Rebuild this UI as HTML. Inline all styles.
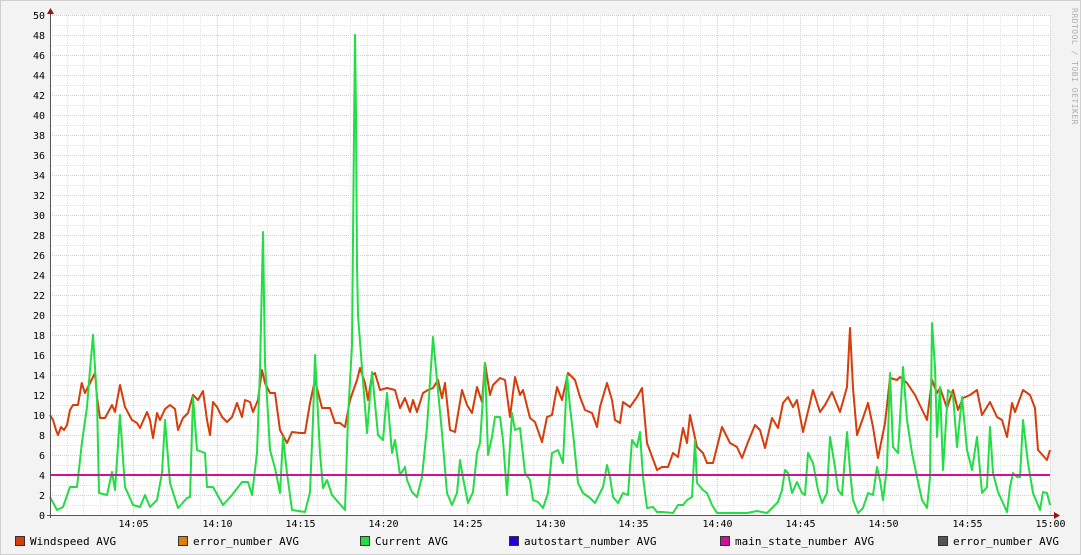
<!DOCTYPE html>
<html><head><meta charset="utf-8"><style>
body{margin:0;background:#f3f3f3;}
svg{display:block;font-family:"DejaVu Sans Mono","Liberation Mono",monospace;}
</style></head><body>
<svg id="s" width="1081" height="555" xmlns="http://www.w3.org/2000/svg">
<rect x="0" y="0" width="1081" height="555" fill="#f3f3f3"/>
<rect x="0.5" y="0.5" width="1080" height="554" fill="none" stroke="#cfcfcf"/>
<rect x="50" y="15" width="1000" height="500" fill="#ffffff"/>
<g id="grid"></g>
<g id="lines"></g>
<text x="1072" y="8" font-size="8" fill="#b0b0b0" transform="rotate(90 1072 8)" letter-spacing="0.5">RRDTOOL / TOBI OETIKER</text>
<g id="legend" font-size="11" fill="#000">
<rect x="15.5" y="536.5" width="9" height="9" fill="#d83c0a" stroke="#333"/><text x="30" y="545">Windspeed AVG</text>
<rect x="178.5" y="536.5" width="9" height="9" fill="#e07c0c" stroke="#333"/><text x="193" y="545">error_number AVG</text>
<rect x="360.5" y="536.5" width="9" height="9" fill="#22dd44" stroke="#333"/><text x="375" y="545">Current AVG</text>
<rect x="509.5" y="536.5" width="9" height="9" fill="#2000e0" stroke="#333"/><text x="524" y="545">autostart_number AVG</text>
<rect x="720.5" y="536.5" width="9" height="9" fill="#d0109a" stroke="#333"/><text x="735" y="545">main_state_number AVG</text>
<rect x="938.5" y="536.5" width="9" height="9" fill="#555555" stroke="#333"/><text x="953" y="545">error_number AVG</text>
</g>
</svg>
<script>
var NS="http://www.w3.org/2000/svg";
function el(t,a,p){var e=document.createElementNS(NS,t);for(var k in a)e.setAttribute(k,a[k]);p.appendChild(e);return e;}
var g=document.getElementById('grid'),L=document.getElementById('lines'),S=document.getElementById('s');
function Y(v){return 515-10*v;}
for(var v=1;v<=50;v++){var y=Y(v)+0.5;var maj=v%2==0;
 el('line',{x1:50,x2:1050,y1:y,y2:y,stroke:maj?'#f0c4c4':'#e4e4e4','stroke-dasharray':'1,1'},g);
 if(maj){var t=el('text',{x:45,y:Y(v)+4,'font-size':'10','text-anchor':'end',fill:'#000'},S);t.textContent=v;}}
var t0=el('text',{x:45,y:519,'font-size':'10','text-anchor':'end',fill:'#000'},S);t0.textContent='0';
for(var m=1;m<=60;m++){var x=Math.round(50+m*1000/60)+0.5;var maj=m%5==0;
 el('line',{x1:x,x2:x,y1:15,y2:515,stroke:maj?'#f0c4c4':'#e4e4e4','stroke-dasharray':'1,1'},g);
 if(maj){var lab='14:'+(m<10?'0':'')+m;if(m==60)lab='15:00';var tt=el('text',{x:x,y:527,'font-size':'10','text-anchor':'middle',fill:'#000'},S);tt.textContent=lab;}}
function pl(d,c){var p=[];for(var i=0;i<d.length;i+=2)p.push(d[i]+','+Y(d[i+1]).toFixed(1));el('polyline',{points:p.join(' '),fill:'none',stroke:c,'stroke-width':2,'stroke-linejoin':'round'},L);}
var O=[50,10,53,9.5,56,8.5,58,8,61,8.8,64,8.5,67,9,70,10.5,73,11,78,11,81.7,13.2,85,12.2,90,13.2,95,14.2,97,11.8,100,9.7,105,9.7,112,11,115,10.3,120,13,125,10.8,132,9.5,137,9.2,140,8.7,147,10.3,150,9.5,153,7.7,157,10.2,160,9.5,165,10.6,170,11,175,10.6,178,8.5,183,9.7,188,10.2,193,12,198,11.5,203,12.4,207,9.5,210,8,213,11.3,217,10.8,222,9.8,227,9.3,232,9.8,237,11.2,242,9.8,245,11.5,250,11.3,253,10.3,258,11.5,262,14.5,265,13.2,270,12.2,275,12.2,280,8.5,287,7.2,292,8.3,300,8.2,305,8.2,310,11.2,315,13.5,322,10.7,330,10.7,335,9.2,340,9.2,345,8.8,350,11.5,357,13.5,360,14.7,365,13.2,368,11.5,372,14,375,14.2,380,12.5,387,12.7,395,12.5,400,10.7,405,11.7,410,10.3,413,11.5,417,10.3,423,12.2,428,12.5,433,12.7,438,13.5,442,11.7,445,13.2,450,8.5,455,8.3,462,12.5,467,11,472,10.2,477,12.8,482,11.3,485,15.2,490,12,493,13,500,13.7,505,13.5,510,9.8,515,13.8,520,12,523,12.5,530,9.7,535,9.3,542,7.3,547,9.8,552,10,557,12.8,562,11.5,568,14.2,575,13.5,580,11.8,585,10.5,592,10.2,597,8.8,600,10.8,607,13.2,612,11.5,615,9.5,620,9.2,623,11.3,630,10.8,637,11.8,642,12.7,647,7.2,657,4.5,662,4.8,668,4.8,673,6.2,678,5.8,683,8.7,687,7.2,690,10,697,6.8,703,6.2,707,5.2,713,5.2,722,8.8,730,7.2,737,6.8,742,5.7,748,7.3,755,9,760,8.5,765,6.7,772,9.7,778,8.7,783,11.2,788,11.8,793,10.8,797,11.5,803,8.3,810,11.2,813,12.5,820,10.3,825,11,832,12.3,840,10.3,847,12.8,850,18.7,853,12.7,857,8,863,9.7,868,11.2,873,8.8,878,5.7,885,9.2,890,13.7,897,13.5,900,13.8,907,13.2,915,12,927,9.5,932,13.5,937,12.2,940,12.7,947,10.7,953,12.5,958,10.5,963,11.7,970,12,977,12.5,982,10,990,11.3,997,9.8,1002,9.5,1007,7.8,1012,11.2,1015,10.3,1023,12.5,1030,12,1035,10.7,1038,6.5,1047,5.5,1050,6.5];
var G=[50,1.8,57,0.5,63,0.8,70,2.8,77,2.8,82,7.3,87,10.8,90,14.5,93,18,97,11.5,99,2.2,107,2,112,4.3,115,2.5,120,10,125,2.8,133,1,140,0.8,145,2,150,0.8,157,1.5,162,4.2,165,9.5,170,3.2,178,0.7,187,1.7,190,1.8,193,11.8,197,6.5,205,6.2,207,2.8,213,2.8,223,1,232,2,242,3.3,248,3.3,252,2,257,6.2,260,14.5,263,28.3,265,15.2,270,6.5,275,4.7,280,2.2,283,7.8,287,4.2,292,0.5,305,0.3,310,2.3,313,9.5,315,16,320,6.2,323,2.7,327,3.5,332,2,345,0.5,348,9.8,352,17,354,38,355,48,356,40,357,25,358,20,362,14.7,367,8.2,372,14.3,378,8,383,7.5,387,12.2,392,6.2,395,7.5,400,4,405,4.8,407,3.5,412,2.3,417,1.8,422,3.8,427,8.8,432,16.3,433,17.8,437,13.5,442,8.2,447,2.2,452,1,457,2.2,460,5.5,463,3.7,468,1.2,473,2.3,477,6.2,480,7.2,482,10.2,485,15.2,488,6,492,7.8,495,9.8,500,9.8,503,7.5,507,2,512,10.2,515,8.5,520,8.7,525,4.2,530,3.5,533,1.5,538,1.3,543,0.7,548,2.2,552,6.2,558,6.5,563,5.2,567,14,570,10.8,573,8.2,578,3.2,583,2.2,590,1.7,595,1.2,600,2.2,603,2.8,607,5,610,3.8,613,1.8,618,1.2,623,2.2,628,2,632,7.5,637,6.8,640,8.3,643,3.8,647,0.7,653,0.8,657,0.3,663,0.3,673,0.2,678,1,683,1,687,1.5,692,1.8,695,7.5,697,3.2,703,2.5,707,2.2,712,1,717,0.2,747,0.2,757,0.4,767,0.2,773,0.8,778,1.3,782,2.5,785,4.5,788,4.2,792,2.2,797,3.3,802,2.2,805,2,808,6.2,813,5.2,818,2.5,822,1.2,827,2.2,830,7.8,835,4.8,838,2.5,842,2,847,8.3,850,4.5,853,1.5,858,0.2,863,0.7,868,2.2,873,2,877,4.8,880,3.5,883,1.5,887,4.8,890,14.2,893,6.8,898,6.2,903,14.8,907,9.5,912,6.2,917,3.8,922,1.5,927,0.7,930,3.8,932,19.2,935,14.8,937,7.8,940,12.8,943,4.5,948,12.5,953,12,957,6.8,962,11.8,967,6.5,972,4.5,977,7.8,982,2.2,987,2.8,990,8.8,993,4.2,998,2.3,1003,1.2,1007,0.3,1010,2.8,1013,4.2,1017,3.8,1020,3.8,1023,9.5,1028,5.2,1033,2.2,1040,0.5,1043,2.3,1047,2.2,1050,1];
pl(O,'#d83c0a');pl(G,'#22dd44');
el('line',{x1:50,x2:1050,y1:475,y2:475,stroke:'#d0109a','stroke-width':2},L);
el('line',{x1:50.5,x2:50.5,y1:10,y2:518,stroke:'#555'},L);
el('line',{x1:47,x2:1055,y1:515.5,y2:515.5,stroke:'#555'},L);
el('polygon',{points:'47,14 54,14 50.5,8',fill:'#a01010'},L);
el('polygon',{points:'1054,512 1054,519 1060,515.5',fill:'#a01010'},L);
</script>
</body></html>
